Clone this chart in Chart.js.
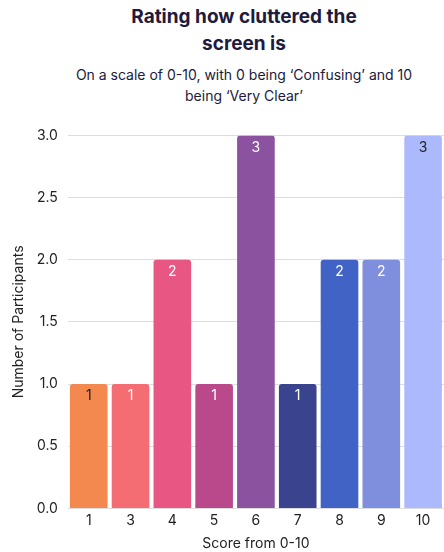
<!DOCTYPE html>
<html>
<head>
<meta charset="utf-8">
<script src="https://cdn.jsdelivr.net/npm/chart.js@4.4.0/dist/chart.umd.min.js"></script>
<style>
  html, body { margin: 0; padding: 0; background: #fff; width: 444px; height: 552px; overflow: hidden; }
  #title { position: absolute; left: 44px; width: 400px; top: 3px; text-align: center;
    font-family: "Inter", "Open Sans", sans-serif; font-weight: 700; font-size: 19px; line-height: 27px; color: #211a3d; }
  #subtitle { position: absolute; left: 44px; width: 400px; top: 64px; text-align: center;
    font-family: "Inter", "Open Sans", sans-serif; font-size: 14px; line-height: 21px; color: #211a3d; }
  #wrap { position: absolute; left: 0; top: 117px; width: 444px; height: 435px; }
</style>
</head>
<body>
<div id="title">Rating how cluttered the<br>screen is</div>
<div id="subtitle">On a scale of 0-10, with 0 being ‘Confusing’ and 10<br>being ‘Very Clear’</div>
<div id="wrap"><canvas id="c"></canvas></div>
<script>
const categories = ["1", "3", "4", "5", "6", "7", "8", "9", "10"];
const participants = [1, 1, 2, 1, 3, 1, 2, 2, 3];
const barColors = ["#f4894f", "#f46d72", "#e85783", "#b9498b", "#8b529f", "#3a438d", "#4063c5", "#7f8edd", "#acbafd"];
const labelColors = ["#222222", "#ffffff", "#ffffff", "#ffffff", "#ffffff", "#ffffff", "#ffffff", "#ffffff", "#222222"];
const yTitle = "Number of Participants";
const xTitle = "Score from 0-10";

const FONT = '"Inter", "Open Sans", sans-serif';

const valueLabels = {
  id: 'valueLabels',
  afterDatasetsDraw(chart) {
    const ctx = chart.ctx;
    const meta = chart.getDatasetMeta(0);
    ctx.save();
    ctx.font = '14px ' + FONT;
    ctx.textAlign = 'center';
    ctx.textBaseline = 'top';
    meta.data.forEach((bar, i) => {
      ctx.fillStyle = labelColors[i];
      ctx.fillText(String(participants[i]), bar.x, bar.y + 5);
    });
    ctx.restore();
  }
};

new Chart(document.getElementById('c'), {
  type: 'bar',
  data: {
    labels: categories,
    datasets: [{
      data: participants,
      backgroundColor: barColors,
      borderRadius: 3,
      borderSkipped: 'bottom',
      barPercentage: 0.9,
      categoryPercentage: 1.0
    }]
  },
  options: {
    responsive: true,
    maintainAspectRatio: false,
    animation: false,
    layout: { padding: { top: 12, right: 0, left: 10, bottom: 0 } },
    plugins: { legend: { display: false }, tooltip: { enabled: false } },
    scales: {
      x: {
        grid: { display: false, drawTicks: false },
        border: { display: false },
        ticks: { color: '#222', font: { family: FONT, size: 14 }, padding: 4 },
        title: { display: true, text: xTitle, color: '#222', font: { family: FONT, size: 14 }, padding: { top: 2, bottom: 0 } }
      },
      y: {
        min: 0, max: 3,
        grid: { color: '#dddddd', drawTicks: false },
        border: { display: false },
        ticks: { stepSize: 0.5, color: '#222', padding: 10, font: { family: FONT, size: 14 },
          callback: v => v.toFixed(1) },
        title: { display: true, text: yTitle, color: '#222', font: { family: FONT, size: 14 }, padding: { top: 0, bottom: 0 } }
      }
    }
  },
  plugins: [valueLabels]
});
</script>
</body>
</html>
